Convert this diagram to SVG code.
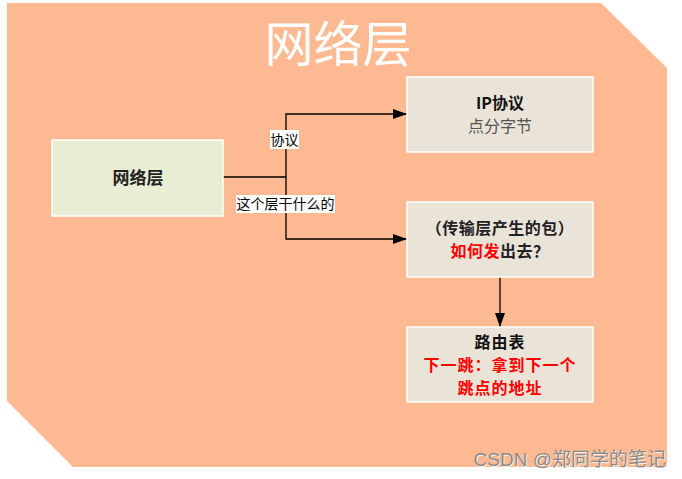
<svg xmlns="http://www.w3.org/2000/svg" width="682" height="479" viewBox="0 0 682 479">
<defs>
<marker id="arr" markerWidth="14" markerHeight="10" refX="14" refY="5" orient="auto" markerUnits="userSpaceOnUse">
<path d="M0,0 L14,5 L0,10 Z" fill="#000"/>
</marker>
<style>
.box{stroke:#fff;stroke-width:1.5}
.t{font-family:"Noto Sans CJK SC","Liberation Sans",sans-serif;text-anchor:middle}
.b{font-weight:bold}
.conn{fill:none;stroke:#000;stroke-width:1.3}
.lbl{font-family:"Noto Sans CJK SC",sans-serif;font-size:14px;text-anchor:middle;fill:#000}
</style>
</defs>
<rect width="682" height="479" fill="#fff"/>
<polygon points="7,3 601,3 667,68 667,467 73,467 7,401" fill="#FDB991"/>
<text x="338" y="62" class="t" font-size="49" fill="#fff">网络层</text>
<g id="connectors">
<path class="conn" d="M223,177 H286"/>
<path class="conn" d="M286,177 V114 H407" marker-end="url(#arr)"/>
<path class="conn" d="M286,177 V239 H407" marker-end="url(#arr)"/>
<path class="conn" d="M500,277 V327" marker-end="url(#arr)"/>
<rect x="270" y="130" width="29" height="19" fill="#fff"/>
<text x="284.5" y="145" class="lbl">协议</text>
<rect x="236" y="195" width="99" height="18" fill="#fff"/>
<text x="285.5" y="209" class="lbl">这个层干什么的</text>
</g>
<g id="node-network">
<rect class="box" x="52" y="140" width="171" height="76" fill="#E8EDD3"/>
<text x="138" y="184" class="t b" font-size="17" fill="#222">网络层</text>
</g>
<g id="node-ip">
<rect class="box" x="407" y="77" width="186" height="75" fill="#EAE3D8"/>
<text x="500" y="109" class="t b" font-size="16" fill="#111">IP协议</text>
<text x="500" y="132" class="t" font-size="16" fill="#555">点分字节</text>
</g>
<g id="node-packet">
<rect class="box" x="407" y="202" width="186" height="75" fill="#EAE3D8"/>
<text x="500" y="234" class="t b" font-size="16" letter-spacing="0.5" fill="#222">（传输层产生的包）</text>
<text x="500" y="257" class="t b" font-size="16" letter-spacing="0.5" fill="#222"><tspan fill="#FF0000">如何发</tspan>出去？</text>
</g>
<g id="node-route">
<rect class="box" x="407" y="327" width="186" height="75" fill="#EAE3D8"/>
<text x="500" y="348" class="t b" font-size="16" letter-spacing="1" fill="#111">路由表</text>
<text x="500" y="371" class="t b" font-size="16" letter-spacing="1" fill="#FF0000">下一跳：拿到下一个</text>
<text x="500" y="394" class="t b" font-size="16" letter-spacing="1" fill="#FF0000">跳点的地址</text>
</g>
<text x="667" y="467" font-family="Liberation Sans,'Noto Sans CJK SC',sans-serif" font-size="19" text-anchor="end" fill="#fff" opacity="0.8">CSDN @郑同学的笔记</text>
<text x="666" y="466" font-family="Liberation Sans,'Noto Sans CJK SC',sans-serif" font-size="19" text-anchor="end" fill="#8a8a8a">CSDN @郑同学的笔记</text>
</svg>
